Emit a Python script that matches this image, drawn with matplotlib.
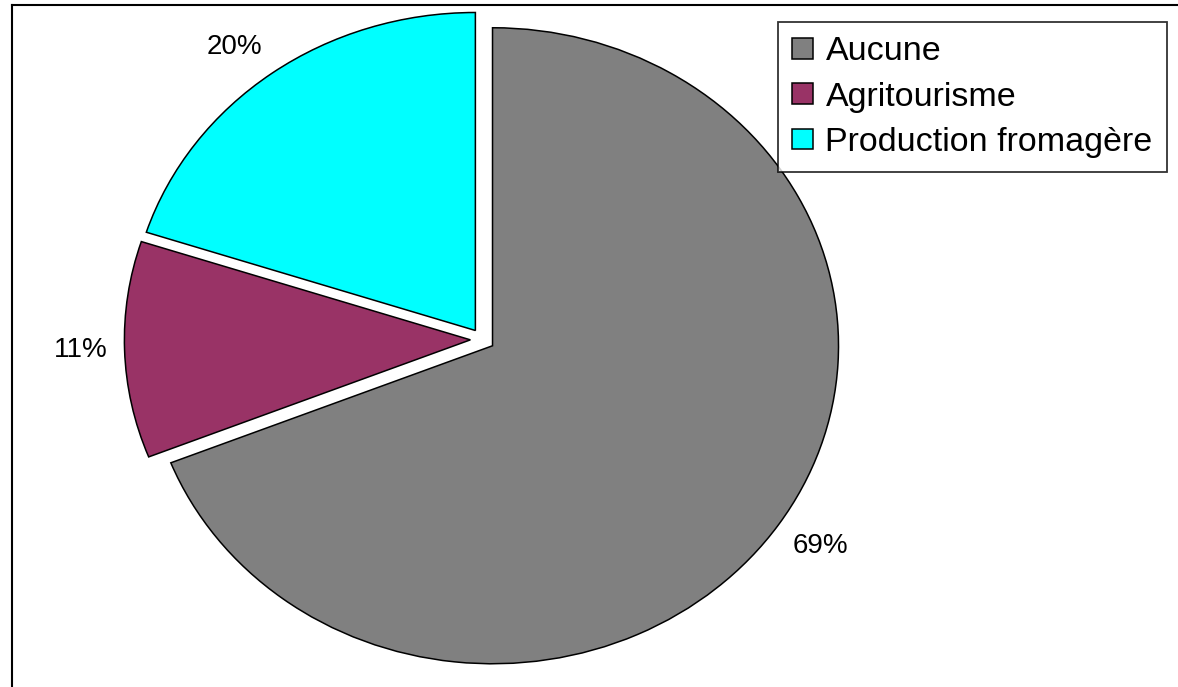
import numpy as np
import matplotlib.pyplot as plt
from matplotlib.lines import Line2D

plt.rcParams['font.family'] = ['Liberation Sans', 'DejaVu Sans']

categories = ['Aucune', 'Agritourisme', 'Production fromagère']
values = [69, 11, 20]
colors = ['#808080', '#993366', '#00FFFF']
explode = [0.035, 0.035, 0.035]

W, H = 1178, 687
fig = plt.figure(figsize=(W / 100, H / 100), dpi=100)
ax = fig.add_axes([0, 0, 1, 1])

wedges, texts, autotexts = ax.pie(
    values, colors=colors, explode=explode, startangle=90, counterclock=False,
    autopct='%1.0f%%', pctdistance=1.05,
    wedgeprops=dict(edgecolor='black', linewidth=1.1),
    textprops=dict(fontsize=20, color='black'))

# elliptical pie: x radius ~346 px, y radius ~318 px, centre at (482, 340) px
cx, cy, rx, ry = 482.5, 339.5, 346.0, 318.0
ax.set_aspect('auto')
ax.set_xlim(-cx / rx, (W - cx) / rx)
ax.set_ylim(-(H - cy) / ry, cy / ry)
ax.axis('off')

# put the nearest corner of each label at the bisector, like Excel does
for w, t in zip(wedges, autotexts):
    ang = np.deg2rad((w.theta1 + w.theta2) / 2)
    c, s = np.cos(ang), np.sin(ang)
    t.set_ha('left' if c > 0 else 'right')
    if s > 0.3:
        t.set_va('bottom')
    elif s < -0.3:
        t.set_va('top')
    else:
        t.set_va('center')

leg = ax.legend(wedges, categories, loc='upper right',
                bbox_to_anchor=(1167 / W, 1 - 22 / H), borderaxespad=0,
                fontsize=24.5, frameon=True, fancybox=False, shadow=False,
                handlelength=0.62, handleheight=0.55, handletextpad=0.36,
                labelspacing=0.42, borderpad=0.42)
leg.get_frame().set_edgecolor('black')
leg.get_frame().set_linewidth(1.3)

# outer chart-area border (top and left only)
fig.add_artist(Line2D([12 / W, 1], [1 - 5 / H, 1 - 5 / H], color='black', lw=1.5))
fig.add_artist(Line2D([12 / W, 12 / W], [0, 1 - 5 / H], color='black', lw=1.5))

fig.savefig('out.png', dpi=100)
